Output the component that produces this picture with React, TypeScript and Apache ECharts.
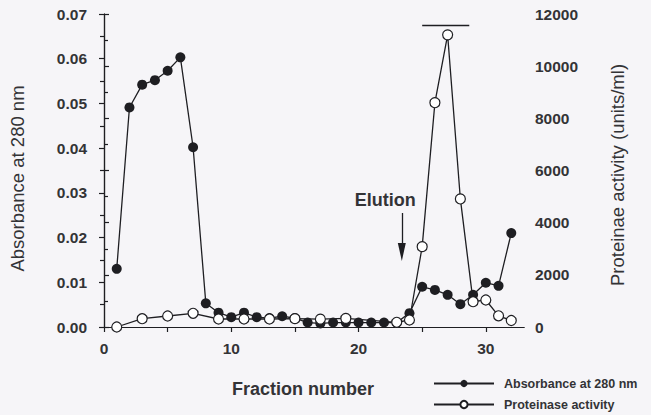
import React, { useEffect, useRef } from "react";
import * as echarts from "echarts";

// Absorbance at 280 nm for every collected fraction
const absFractions = [
  1, 2, 3, 4, 5, 6, 7, 8, 9, 10, 11, 12, 13, 14, 15, 16,
  17, 18, 19, 20, 21, 22, 23, 24, 25, 26, 27, 28, 29, 30, 31, 32,
];
const absorbance = [
  0.013, 0.0491, 0.0542, 0.0552, 0.0573, 0.0603, 0.0402, 0.0053,
  0.0032, 0.0022, 0.0032, 0.0022, 0.002, 0.0024, 0.002, 0.001,
  0.0008, 0.001, 0.001, 0.001, 0.001, 0.001, 0.001, 0.0031,
  0.009, 0.0083, 0.0072, 0.0051, 0.0072, 0.0099, 0.0092, 0.021,
];

// Proteinase activity (units/ml) for the assayed fractions
const actFractions = [1, 3, 5, 7, 9, 11, 13, 15, 17, 19, 23, 24, 25, 26, 27, 28, 29, 30, 31, 32];
const activity = [
  0, 318, 422, 525, 307, 307, 307, 320, 300, 330,
  180, 268, 3080, 8600, 11200, 4910, 970, 1035, 430, 250,
];

// Pooled active fractions (bar above the peak)
const poolRange = [25, 28.7];
const poolLevel = 11550;

// Elution marker
const elutionX = 23.4;
const elutionArrow = [0.0255, 0.0168];

const xTicks = [0, 5, 10, 15, 20, 25, 30];
const xLabels = [0, 10, 20, 30];

const seriesNames = ["Absorbance at 280 nm", "Proteinase activity"];

const FONT = "'Liberation Sans', Arial, Helvetica, sans-serif";
const INK = "#1e1e22";
const TEXT = "#333336";
const TICK_FONT = 15.5;
const TITLE_FONT = 18.5;

export default function App() {
  const ref = useRef<HTMLDivElement>(null);

  useEffect(() => {
    if (!ref.current) return;
    const chart = echarts.init(ref.current, null, { renderer: "svg" });

    const absData = absFractions.map((f, i) => [f, absorbance[i]]);
    const actData = actFractions.map((f, i) => [f, activity[i]]);

    const legendBase = {
      left: 433,
      itemWidth: 60,
      itemHeight: 9,
      padding: 0,
      textStyle: {
        fontFamily: FONT,
        fontSize: 12.5,
        fontWeight: "bold",
        color: TEXT,
        padding: [0, 0, 0, 5],
      },
    };

    const option: echarts.EChartsOption = {
      animation: false,
      backgroundColor: "#f6f5f8",
      textStyle: { fontFamily: FONT },
      grid: { left: 103, right: 127, top: 14, bottom: 88 },
      legend: [
        { ...legendBase, top: 377, data: [seriesNames[0]] },
        { ...legendBase, top: 398, data: [seriesNames[1]] },
      ],
      xAxis: [
        {
          type: "value",
          min: 0,
          max: 33,
          position: "bottom",
          name: "Fraction number",
          nameLocation: "middle",
          nameGap: 53,
          nameTextStyle: {
            fontFamily: FONT,
            fontSize: 18,
            fontWeight: "bold",
            color: TEXT,
            padding: [0, 22, 0, 0],
          },
          axisLine: { show: true, lineStyle: { color: INK, width: 1.2 } },
          axisTick: {
            show: true,
            inside: false,
            length: 5,
            customValues: xTicks,
            lineStyle: { color: INK, width: 1.2 },
          },
          axisLabel: {
            customValues: xLabels,
            margin: 13,
            fontFamily: FONT,
            fontSize: TICK_FONT,
            fontWeight: "bold",
            color: TEXT,
          },
          splitLine: { show: false },
        },
        {
          type: "value",
          min: 0,
          max: 33,
          position: "top",
          axisLine: { show: true, lineStyle: { color: INK, width: 1.2 } },
          axisTick: { show: false },
          axisLabel: { show: false },
          splitLine: { show: false },
        },
      ],
      yAxis: [
        {
          type: "value",
          min: 0,
          max: 0.07,
          interval: 0.01,
          position: "left",
          name: "Absorbance at 280 nm",
          nameLocation: "middle",
          nameGap: 77,
          nameTextStyle: {
            fontFamily: FONT,
            fontSize: TITLE_FONT,
            color: TEXT,
            padding: [0, 16, 0, 0],
          },
          axisLine: { show: true, lineStyle: { color: INK, width: 1.2 } },
          axisTick: { show: true, length: 5, lineStyle: { color: INK, width: 1.2 } },
          minorTick: { show: true, splitNumber: 2, length: 4, lineStyle: { color: INK, width: 1.2 } },
          axisLabel: {
            margin: 17,
            fontFamily: FONT,
            fontSize: TICK_FONT,
            fontWeight: "bold",
            color: TEXT,
            formatter: (v: number) => v.toFixed(2),
          },
          splitLine: { show: false },
        },
        {
          type: "value",
          min: 0,
          max: 12000,
          interval: 2000,
          position: "right",
          name: "Proteinae activity (units/ml)",
          nameLocation: "middle",
          nameGap: 84,
          nameTextStyle: {
            fontFamily: FONT,
            fontSize: TITLE_FONT,
            color: TEXT,
            padding: [0, 9, 0, 0],
          },
          axisLine: { show: true, lineStyle: { color: INK, width: 1.2 } },
          axisTick: { show: true, length: 5, lineStyle: { color: INK, width: 1.2 } },
          minorTick: { show: true, splitNumber: 2, length: 4, lineStyle: { color: INK, width: 1.2 } },
          axisLabel: {
            margin: 11,
            fontFamily: FONT,
            fontSize: TICK_FONT,
            fontWeight: "bold",
            color: TEXT,
            formatter: (v: number) => String(v),
          },
          splitLine: { show: false },
        },
      ],
      series: [
        {
          name: seriesNames[0],
          type: "line",
          xAxisIndex: 0,
          yAxisIndex: 0,
          data: absData,
          symbol: "circle",
          symbolSize: 10,
          showAllSymbol: true,
          itemStyle: { color: INK, borderColor: INK, borderWidth: 0 },
          lineStyle: { color: INK, width: 1.3 },
          z: 2,
          markLine: {
            silent: true,
            symbol: ["none", "triangle"],
            symbolSize: [0, 10],
            lineStyle: { color: INK, width: 1.3, type: "solid" },
            label: { show: false },
            data: [
              [
                { coord: [elutionX, elutionArrow[0]], symbol: "none" },
                { coord: [elutionX, elutionArrow[1]], symbol: "triangle", symbolSize: [8, 18] },
              ],
            ],
          },
          markPoint: {
            silent: true,
            symbol: "circle",
            symbolSize: 0,
            label: {
              show: true,
              position: "inside",
              formatter: "Elution",
              fontFamily: FONT,
              fontSize: 18,
              fontWeight: "bold",
              color: TEXT,
            },
            data: [{ coord: [22.1, 0.0284] }],
          },
        },
        {
          name: seriesNames[1],
          type: "line",
          xAxisIndex: 0,
          yAxisIndex: 1,
          data: actData,
          symbol: "circle",
          symbolSize: 10,
          showAllSymbol: true,
          itemStyle: { color: "#ffffff", borderColor: INK, borderWidth: 1.2 },
          lineStyle: { color: INK, width: 1.3 },
          z: 3,
          markLine: {
            silent: true,
            symbol: ["none", "none"],
            lineStyle: { color: INK, width: 1.3, type: "solid" },
            label: { show: false },
            data: [
              [
                { coord: [poolRange[0], poolLevel] },
                { coord: [poolRange[1], poolLevel] },
              ],
            ],
          },
        },
      ],
    };

    chart.setOption(option);
    return () => chart.dispose();
  }, []);

  return (
    <div
      ref={ref}
      style={{ position: "absolute", left: 0, top: 0, width: 651, height: 415 }}
    />
  );
}
